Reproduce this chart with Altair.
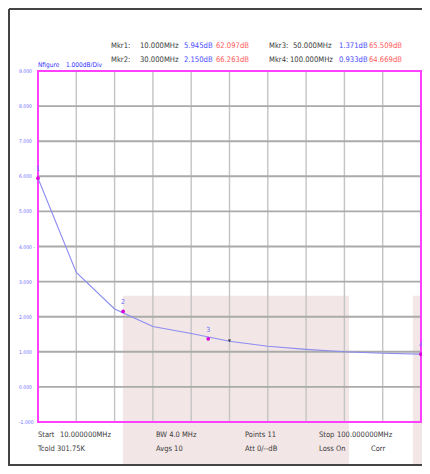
import altair as alt
import pandas as pd

# ---- data ----
freqs = [10, 19, 28, 37, 46, 55, 64, 73, 82, 91, 100]
nfigure = [5.945, 3.26, 2.22, 1.72, 1.52, 1.30, 1.16, 1.07, 1.00, 0.96, 0.933]

mkr_ids = ["1", "2", "3", "4"]
mkr_freq = [10, 30, 50, 100]
mkr_nf = [5.945, 2.150, 1.371, 0.933]

ref_freq = [55]
ref_nf = [1.31]

y_ticks = [-1, 0, 1, 2, 3, 4, 5, 6, 7, 8, 9]
y_labels = ["-1.000", "0.000", "1.000", "2.000", "3.000", "4.000 -",
            "5.000", "6.000", "7.000", "8.000", "9.000"]
x_ticks = freqs

# header / footer annotation texts (page pixels)
ann_text = ["Mkr1:", "10.000MHz", "5.945dB", "62.097dB",
            "Mkr3:", "50.000MHz", "1.371dB", "65.509dB",
            "Mkr2:", "30.000MHz", "2.150dB", "66.263dB",
            "Mkr4:", "100.000MHz", "0.933dB", "64.669dB",
            "Nfigure", "1.000dB/Div",
            "Start", "10.000000MHz", "Tcold 301.75K",
            "BW 4.0  MHz", "Avgs 10",
            "Points 11", "Att 0/--dB",
            "Stop", "100.000000MHz", "Loss  On", "Corr"]
ann_x = [111, 140, 184, 216, 269, 293, 339, 369,
         111, 140, 184, 216, 269, 290, 339, 369,
         38, 66,
         38, 60, 38,
         156, 156,
         245, 245,
         319, 337, 319, 371]
ann_y = [46, 46, 46, 46, 46, 46, 46, 46,
         60, 60, 60, 60, 60, 60, 60, 60,
         65, 65,
         435, 435, 449,
         435, 449,
         435, 449,
         435, 435, 449, 449]
ann_kind = ["k", "k", "b", "r", "k", "k", "b", "r",
            "k", "k", "b", "r", "k", "k", "b", "r",
            "B", "B",
            "k", "k", "k", "k", "k", "k", "k", "k", "k", "k", "k"]
ann_size = [7.6] * 16 + [6.5, 6.5] + [7.5] * 11

# background shading blocks (data units)
shade_x = [29.97, 98.1]
shade_x2 = [83.1, 101.0]
shade_y = [2.6, 2.6]
shade_y2 = [-2.4, -2.4]

PLOT_L, PLOT_T = 38, 71
W, H = 383, 351

curve = pd.DataFrame({"f": freqs, "nf": nfigure})
mk = pd.DataFrame({"id": mkr_ids, "f": mkr_freq, "nf": mkr_nf})
ref = pd.DataFrame({"f": ref_freq, "nf": ref_nf})
shade = pd.DataFrame({"x": shade_x, "x2": shade_x2, "y": shade_y, "y2": shade_y2})
xgrid = pd.DataFrame({"f": x_ticks})
ygrid = pd.DataFrame({"nf": y_ticks, "lab": y_labels})
border = pd.DataFrame({"x": [10], "x2": [100], "y": [-1], "y2": [9]})
ann = pd.DataFrame({"t": ann_text,
                    "px": [v - PLOT_L for v in ann_x],
                    "py": [v - PLOT_T for v in ann_y],
                    "kind": ann_kind, "fs": ann_size})

xs = alt.Scale(domain=[10, 100], nice=False, zero=False)
ys = alt.Scale(domain=[-1, 9], nice=False, zero=False)

FONT = "DejaVu Sans Condensed, Liberation Sans Narrow, sans-serif"

shade_layer = alt.Chart(shade).mark_rect(color="#e7cdcd", opacity=0.5, clip=False).encode(
    x=alt.X("x:Q", scale=xs, axis=None), x2="x2:Q",
    y=alt.Y("y:Q", scale=ys, axis=None), y2="y2:Q")

xgrid_layer = alt.Chart(xgrid).mark_rule(color="#c4c4c4", strokeWidth=1.4).encode(
    x=alt.X("f:Q", scale=xs, axis=None))

ygrid_layer = alt.Chart(ygrid).mark_rule(color="#aaaaaa", strokeWidth=1.9).encode(
    y=alt.Y("nf:Q", scale=ys, axis=None))

ylab_layer = alt.Chart(ygrid).mark_text(align="left", baseline="middle", font=FONT,
                                        fontSize=5, color="#6b6bff").encode(
    x=alt.value(-19), y=alt.Y("nf:Q", scale=ys, axis=None), text="lab:N")

border_layer = alt.Chart(border).mark_rect(fill=None, stroke="#ff40ff", strokeWidth=2).encode(
    x=alt.X("x:Q", scale=xs), x2="x2:Q", y=alt.Y("y:Q", scale=ys), y2="y2:Q")

line_layer = alt.Chart(curve).mark_line(color="#8c8cf0", strokeWidth=1.1).encode(
    x=alt.X("f:Q", scale=xs), y=alt.Y("nf:Q", scale=ys))

mk_dots = alt.Chart(mk).mark_point(filled=True, color="#d800d8", size=14, opacity=1).encode(
    x=alt.X("f:Q", scale=xs), y=alt.Y("nf:Q", scale=ys))

mk_labels = alt.Chart(mk).mark_text(color="#6a6aff", fontSize=7, dy=-9, font=FONT).encode(
    x=alt.X("f:Q", scale=xs), y=alt.Y("nf:Q", scale=ys), text="id:N")

ref_mark = alt.Chart(ref).mark_point(shape="triangle-down", filled=True, color="#333333",
                                     size=10, opacity=1).encode(
    x=alt.X("f:Q", scale=xs), y=alt.Y("nf:Q", scale=ys))

ann_layer = alt.Chart(ann).mark_text(align="left", baseline="middle", font=FONT).encode(
    x=alt.X("px:Q", scale=None), y=alt.Y("py:Q", scale=None), text="t:N",
    size=alt.Size("fs:Q", scale=None, legend=None),
    color=alt.Color("kind:N", scale=alt.Scale(domain=["k", "b", "r", "B"],
                                              range=["#3a3a3a", "#4a4aff", "#ff5a5a", "#3030ff"]),
                    legend=None))

frame_top = alt.Chart(curve).mark_rule(color="#444444", strokeWidth=1.6).encode(
    x=alt.value(-29), x2=alt.value(W + 1), y=alt.value(-62))
frame_left = alt.Chart(curve).mark_rule(color="#444444", strokeWidth=1.6).encode(
    x=alt.value(-29), y=alt.value(-62), y2=alt.value(H + 44))
frame_bottom = alt.Chart(curve).mark_rule(color="#444444", strokeWidth=1.6).encode(
    x=alt.value(-29), x2=alt.value(W + 1), y=alt.value(H + 43))

chart = alt.layer(shade_layer, xgrid_layer, ygrid_layer, ylab_layer, border_layer, line_layer,
                  mk_dots, mk_labels, ref_mark, ann_layer,
                  frame_top, frame_left, frame_bottom).properties(
    width=W, height=H,
    autosize=alt.AutoSizeParams(type="none"),
    padding={"left": 30, "top": 63, "right": 1, "bottom": 44},
).configure_view(stroke=None)

chart.save("out.html", embed_options={"renderer": "svg", "actions": False})
